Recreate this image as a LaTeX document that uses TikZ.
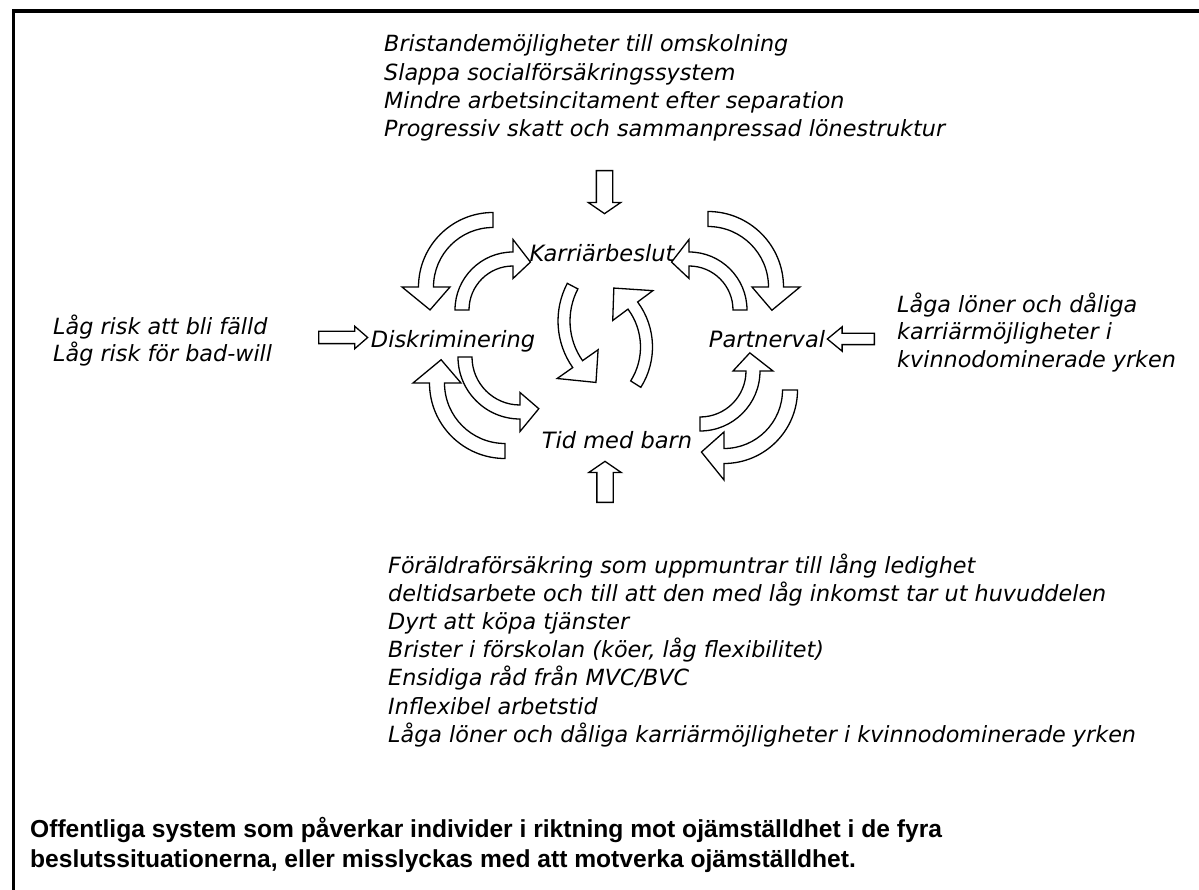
\documentclass[tikz,border=0pt]{standalone}
\usepackage{fontspec}
\setmainfont{DejaVu Sans}
\newfontfamily\rubrikfont{Liberation Sans}
\usepackage{tikz}
\usetikzlibrary{shapes.arrows,positioning}

% böjd blockpil: mitt, radie, svansvinkel, huvudvinkel, spetsvinkel, halv bredd, halv huvudbredd
\newcommand{\krokpil}[7]{%
  \draw[pil] ([shift={#1}]#3:{#2+#6}) arc[start angle=#3, end angle=#4, radius={#2+#6}]
    -- ([shift={#1}]#4:{#2+#7}) -- ([shift={#1}]#5:#2) -- ([shift={#1}]#4:{#2-#7})
    -- ([shift={#1}]#4:{#2-#6}) arc[start angle=#4, end angle=#3, radius={#2-#6}] -- cycle;}

\begin{document}
\begin{tikzpicture}[x=1pt,y=-1pt,
  pil/.style={draw,fill=white,line width=1.3pt,line join=miter},
  blockpil/.style={pil,single arrow,inner sep=0pt,single arrow head indent=0pt,minimum width=1pt},
  beslut/.style={font=\fontsize{22.5}{28}\selectfont\itshape,inner sep=0pt,anchor=base},
  rad/.style={font=\fontsize{22.3}{28}\selectfont\itshape,inner sep=0pt,anchor=base west},
  rubrik/.style={font=\rubrikfont\fontsize{24.6}{30}\selectfont\bfseries,inner sep=0pt,anchor=base west}]
  \useasboundingbox (0,0) rectangle (1199,890);
  \draw[line width=3.3pt] (13.3,890) -- (13.3,11) -- (1199,11);

  \node[beslut] (karriar) at (602,262) {Karriärbeslut};
  \node[beslut] (diskr) at (453,348) {Diskriminering};
  \node[beslut] (partner) at (767,348) {Partnerval};
  \node[beslut] (barn) at (617,448) {Tid med barn};

  \foreach \t [count=\i] in {Bristandemöjligheter till omskolning, Slappa socialförsäkringssystem,
      Mindre arbetsincitament efter separation, Progressiv skatt och sammanpressad lönestruktur}
    \node[rad] (hinder\i) at (384,23.7+28.3*\i) {\t};
  \foreach \t [count=\i] in {Låg risk att bli fälld, Låg risk för bad-will}
    \node[rad] (risk\i) at (53,308+27*\i) {\t};
  \foreach \t [count=\i] in {Låga löner och dåliga, karriärmöjligheter i, kvinnodominerade yrken}
    \node[rad] (lon\i) at (897,286+27*\i) {\t};
  \foreach \t [count=\i] in {Föräldraförsäkring som uppmuntrar till lång ledighet,
      deltidsarbete och till att den med låg inkomst tar ut huvuddelen, Dyrt att köpa tjänster,
      {Brister i förskolan (köer, låg flexibilitet)}, Ensidiga råd från MVC/BVC, Inflexibel arbetstid,
      Låga löner och dåliga karriärmöjligheter i kvinnodominerade yrken}
    \node[rad] (barn\i) at (388,544.8+28.2*\i) {\t};
  \node[rubrik] (rubrik1) at (30,837) {Offentliga system som påverkar individer i riktning mot ojämställdhet i de fyra};
  \node[rubrik] (rubrik2) at (30,867) {beslutssituationerna, eller misslyckas med att motverka ojämställdhet.};

  % raka pilar in mot besluten
  \node[blockpil,minimum height=43,inner ysep=7.5,single arrow head extend=8,single arrow tip angle=111,rotate=-90,anchor=tail] (pilned) at (604.5,170) {};
  \node[blockpil,minimum height=41,inner ysep=7.5,single arrow head extend=8,single arrow tip angle=111,rotate=90,anchor=tail] (pilupp) at (605,503) {};
  \node[blockpil,minimum height=49,inner ysep=5.5,single arrow head extend=5,single arrow tip angle=82,anchor=tail] (pilhoger) at (318,337.5) {};
  \node[blockpil,minimum height=47,inner ysep=5,single arrow head extend=6.5,single arrow tip angle=79,rotate=180,anchor=tail] (pilvanster) at (875,339) {};

  \krokpil{(493,287)}{67}{-90}{-180}{-200}{7.5}{24}
  \krokpil{(513,310)}{51}{180}{270}{290}{7}{19.5}
  \krokpil{(708,287)}{68}{270}{360}{380}{7.5}{24}
  \krokpil{(689,310)}{51}{360}{270}{250}{7}{19.5}
  \krokpil{(505,383)}{68}{90}{180}{200}{7.5}{24}
  \krokpil{(520,357)}{55}{180}{90}{70}{7}{19.5}
  \krokpil{(700,371)}{53}{90}{0}{-20}{7}{20}
  \krokpil{(724,390)}{66}{0}{90}{110}{7.5}{24}
  % mitten
  \krokpil{(639,321)}{75}{207.7}{144.9}{125}{6}{25}
  \krokpil{(577,347)}{69.5}{32.3}{-36.6}{-58}{6}{25}
\end{tikzpicture}
\end{document}
